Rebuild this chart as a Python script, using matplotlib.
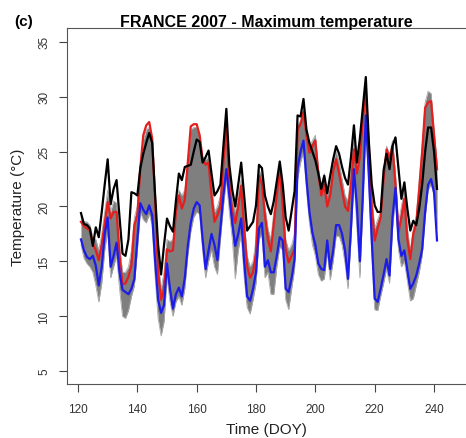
import numpy as np
import matplotlib
matplotlib.use("Agg")
from matplotlib import pyplot as plt

plt.rcParams['font.family'] = ['Liberation Sans', 'DejaVu Sans']

# day of year, 121..241
doy = np.arange(121, 242)

# black line
black_t = [19.4, 18.4, 18.3, 18.0, 16.4, 18.1, 17.2, 19.5, 22.0, 24.3,
           20.2, 21.6, 22.4, 19.0, 15.7, 15.5, 17.0, 21.3, 21.2, 21.0,
           23.5, 24.8, 25.8, 26.7, 25.8, 21.0, 16.5, 13.8, 16.5, 18.9,
           18.2, 17.7, 20.5, 23.0, 22.4, 23.6, 23.7, 23.8, 25.0, 26.1,
           25.9, 24.0, 24.5, 25.1, 23.0, 21.0, 21.4, 22.0, 25.5, 28.9,
           23.8, 21.5, 20.0, 22.0, 24.0, 21.0, 17.8, 18.2, 18.6, 20.1,
           23.8, 23.5, 21.0, 20.0, 19.3, 20.5, 22.3, 24.1, 22.0, 19.0,
           17.8, 19.6, 21.4, 28.3, 28.2, 29.8, 27.0, 25.8, 25.0, 24.2,
           23.0, 21.6, 22.8, 21.2, 22.8, 24.3, 25.5, 24.8, 23.6, 22.6,
           22.0, 24.5, 27.4, 24.0, 26.2, 29.0, 31.8, 26.0, 22.0, 20.1,
           19.5, 19.5, 23.3, 24.8, 23.4, 25.5, 26.3, 23.5, 20.7, 22.2,
           19.8, 17.8, 18.7, 18.3, 19.8, 22.0, 25.0, 27.2, 27.2, 25.0,
           21.6]

# red line
red_t = [18.6, 18.2, 18.0, 17.8, 16.6, 16.0, 15.1, 16.5, 18.5, 20.4,
         18.9, 19.5, 19.5, 15.5, 12.9, 13.0, 13.6, 14.6, 18.3, 19.2,
         23.5, 26.5, 27.4, 27.7, 26.2, 20.5, 14.0, 11.5, 12.5, 16.1,
         15.9, 16.0, 19.5, 21.0, 19.8, 20.6, 24.0, 27.3, 27.5, 27.5,
         26.5, 24.3, 23.8, 24.0, 21.0, 18.6, 19.2, 20.0, 24.0, 27.7,
         22.0, 19.5, 18.5, 20.0, 21.9, 18.0, 14.5, 13.5, 14.0, 15.8,
         22.8, 22.0, 19.2, 17.0, 15.9, 18.5, 21.0, 23.4, 20.0, 16.0,
         14.9, 15.5, 16.1, 27.0, 27.5, 28.6, 26.5, 24.9, 25.5, 26.0,
         23.0, 21.0, 22.0, 20.0, 21.0, 23.2, 24.3, 23.0, 21.5, 20.0,
         19.6, 22.0, 25.2, 23.0, 24.5, 28.0, 30.4, 25.5, 20.0, 16.9,
         18.0, 19.0, 22.5, 25.2, 24.4, 25.5, 22.0, 17.6, 19.0, 20.7,
         17.0, 15.2, 17.5, 18.5, 21.5, 25.0, 29.0, 29.5, 29.6, 26.5,
         23.4]

# blue line
blue_t = [17.0, 16.0, 15.4, 15.2, 15.5, 14.6, 12.8, 14.5, 17.5, 19.0,
          14.5, 15.5, 16.7, 14.0, 12.4, 12.2, 12.0, 12.5, 13.4, 17.0,
          20.3, 19.7, 19.3, 20.1, 19.2, 15.0, 11.5, 10.3, 11.0, 14.8,
          12.5, 10.7, 12.0, 12.6, 11.8, 13.5, 16.4, 18.5, 19.8, 20.4,
          20.1, 17.0, 14.3, 16.0, 17.5, 16.5, 15.1, 18.0, 21.0, 23.4,
          21.0, 18.5, 16.4, 17.5, 18.9, 15.0, 11.8, 11.4, 12.5, 14.0,
          18.0, 18.5, 14.5, 15.1, 14.0, 14.0, 15.5, 17.2, 16.9, 12.5,
          12.2, 13.5, 15.2, 23.5, 25.0, 26.0, 22.5, 19.5, 17.6, 16.5,
          14.8, 14.3, 14.2, 16.9, 14.3, 16.0, 18.3, 18.3, 17.5, 16.0,
          13.4, 18.0, 23.4, 20.0, 15.0, 21.0, 28.3, 23.0, 17.0, 11.6,
          11.3, 12.5, 13.8, 15.2, 13.7, 19.0, 21.7, 17.0, 15.5, 16.0,
          14.2, 12.5, 13.0, 13.7, 14.8, 16.1, 19.5, 22.0, 22.5, 21.3,
          16.9]

# grey ensemble envelope
grey_hi = [19.0, 18.6, 18.6, 18.3, 17.2, 17.0, 16.0, 17.5, 19.5, 21.5,
           19.5, 20.5, 20.3, 16.5, 14.0, 14.0, 14.5, 16.0, 19.0, 20.0,
           23.5, 26.0, 27.0, 27.2, 26.0, 21.0, 15.0, 12.5, 14.0, 17.0,
           16.8, 17.0, 20.0, 21.5, 21.0, 21.5, 24.0, 27.0, 27.2, 27.2,
           26.5, 24.5, 24.3, 24.5, 22.0, 19.5, 20.0, 21.0, 24.5, 28.0,
           23.0, 20.5, 19.5, 21.0, 22.5, 19.0, 15.5, 14.5, 15.0, 17.0,
           23.3, 22.8, 20.0, 18.0, 17.0, 19.5, 22.0, 24.0, 21.0, 17.0,
           16.0, 16.5, 17.5, 27.5, 27.8, 29.0, 27.0, 25.5, 26.0, 26.5,
           23.5, 22.0, 23.0, 21.0, 22.0, 24.0, 25.0, 24.0, 22.5, 21.0,
           20.5, 23.0, 26.0, 23.5, 25.0, 28.5, 31.2, 26.0, 21.0, 18.0,
           18.8, 19.5, 23.0, 25.5, 24.8, 26.0, 23.0, 18.5, 20.0, 21.5,
           18.0, 16.0, 18.0, 19.0, 22.5, 25.5, 29.5, 30.5, 30.3, 27.0,
           24.0]
grey_lo = [16.5, 15.3, 14.8, 14.5, 14.0, 12.8, 11.3, 13.0, 16.0, 17.8,
           13.5, 14.5, 15.5, 12.5, 10.0, 9.8, 10.5, 11.8, 12.8, 16.0,
           19.5, 18.8, 18.5, 19.3, 18.3, 13.5, 9.8, 8.2, 9.5, 13.5,
           11.3, 10.0, 11.3, 11.8, 11.0, 12.5, 15.5, 17.7, 19.0, 19.5,
           19.3, 16.0, 13.5, 15.0, 16.0, 14.5, 13.8, 17.0, 20.0, 22.5,
           19.5, 17.0, 13.4, 16.0, 17.5, 13.5, 10.8, 10.2, 11.5, 13.0,
           17.0, 17.5, 13.5, 14.0, 12.0, 12.0, 14.5, 16.3, 16.0, 11.5,
           10.6, 12.5, 14.3, 22.5, 24.0, 25.0, 21.5, 18.5, 16.5, 15.5,
           13.8, 13.2, 13.4, 15.8, 13.3, 15.0, 17.3, 17.3, 16.5, 14.8,
           12.5, 17.0, 22.5, 18.0, 13.5, 20.0, 27.5, 22.0, 15.8, 10.6,
           10.5, 11.8, 13.0, 14.3, 13.0, 18.0, 20.8, 16.0, 14.5, 15.0,
           13.2, 11.4, 11.6, 12.8, 14.0, 15.5, 19.0, 21.5, 22.0, 21.0,
           18.0]

xticks = [120, 140, 160, 180, 200, 220, 240]
yticks = [5, 10, 15, 20, 25, 30, 35]

fig = plt.figure(figsize=(4.66, 4.39), dpi=100)
ax = fig.add_axes([67 / 466, 54 / 439, 403 / 466, 356 / 439])

ax.fill_between(doy, grey_lo, grey_hi, color='#7f7f7f', lw=0)
ax.plot(doy, grey_hi, color='#a8a8a8', lw=0.6)
ax.plot(doy, grey_lo, color='#a8a8a8', lw=0.6)
ax.plot(doy, red_t, color='#e51e1e', lw=1.6)
ax.plot(doy, blue_t, color='#1c1ce8', lw=1.6)
ax.plot(doy, black_t, color='black', lw=1.6)

ax.set_xlim(116.29, 252.12)
ax.set_ylim(3.815, 36.27)

ax.set_xticks(xticks)
ax.set_yticks(yticks)
ax.tick_params(direction='out', length=6, width=0.8, colors='#444444',
               labelcolor='#333333', labelsize=8.5)
ax.tick_params(axis='x', pad=8)
ax.tick_params(axis='y', pad=6)
for lab in ax.get_yticklabels():
    lab.set_rotation(90)
    lab.set_va('center')

for s in ax.spines.values():
    s.set_color('#555555')
    s.set_linewidth(0.8)

ax.set_xlabel('Time (DOY)', fontsize=11, color='#222222')
ax.xaxis.label.set_va('center')
ax.xaxis.set_label_coords(199 / 403, -45 / 356)
ax.set_ylabel('Temperature (°C)', fontsize=11, color='#222222')
ax.yaxis.label.set_va('center')
ax.yaxis.set_label_coords(-49 / 403, 0.5)

ax.text(199 / 403, 1 + 7 / 356, 'FRANCE 2007 - Maximum temperature',
        transform=ax.transAxes, ha='center', va='center',
        fontsize=11.5, fontweight='bold')
fig.text(24 / 466, 1 - 22 / 439, '(c)', ha='center', va='center',
         fontsize=11, fontweight='bold')

fig.savefig('out.png', dpi=100)
